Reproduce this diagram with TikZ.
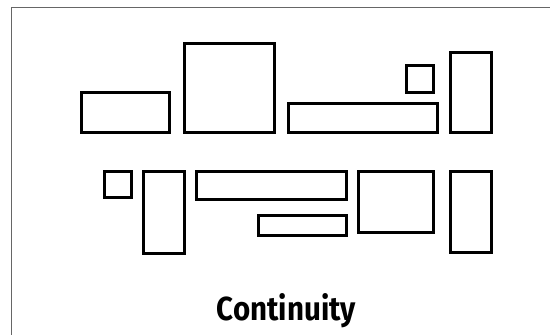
\documentclass[tikz,border=0pt]{standalone}
\usepackage{fontspec}
\setmainfont{Fira Sans}
\usepackage{graphicx}
\begin{document}
\begin{tikzpicture}[x=1pt, y=-1pt, blocco/.style={line width=2.6pt, line join=miter}, cornice/.style={line width=1.4pt, gray!80!black}]
            \useasboundingbox (0, 0) rectangle (550, 335);
            %cornice
            \draw[cornice] (11.5, 335) -- (11.5, 7.5) -- (550, 7.5);
            %riga superiore
            \draw[blocco] (81.5, 92.5) rectangle (169.5, 132.5);
            \draw[blocco] (184.5, 43.5) rectangle (274.5, 132.5);
            \draw[blocco] (288.5, 103.5) rectangle (437.5, 132.5);
            \draw[blocco] (406.5, 65.5) rectangle (433.5, 92.5);
            \draw[blocco] (450.5, 52.5) rectangle (491.5, 132.5);
            %riga inferiore
            \draw[blocco] (104.5, 171.5) rectangle (131.5, 197.5);
            \draw[blocco] (143.5, 171.5) rectangle (184.5, 253.5);
            \draw[blocco] (196.5, 171.5) rectangle (346.5, 199.5);
            \draw[blocco] (258.5, 215.5) rectangle (346.5, 235.5);
            \draw[blocco] (358.5, 171.5) rectangle (433.5, 232.5);
            \draw[blocco] (450.5, 171.5) rectangle (491.5, 252.5);
            %titolo
            \node[anchor=base, inner sep=0pt] (continuity) at (286.5, 320) {\resizebox{139pt}{27pt}{\bfseries Continuity}};
        \end{tikzpicture}
\end{document}
